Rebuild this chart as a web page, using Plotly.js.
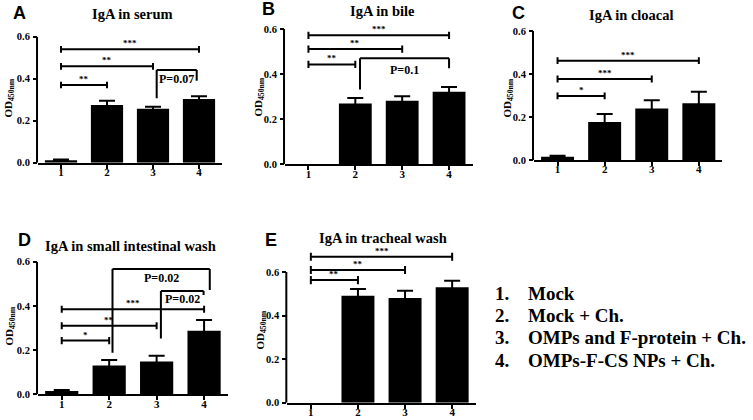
<!DOCTYPE html>
<html>
<head>
<meta charset="utf-8">
<script src="https://cdn.plot.ly/plotly-3.0.1.min.js"></script>
<style>
  body { margin: 0; background: #fff; }
  #figPlot { width: 753px; height: 420px; }
</style>
</head>
<body>
<div id="figPlot"></div>
<script>
const groups = [1, 2, 3, 4];
const groupNames = ['Mock', 'Mock + Ch.', 'OMPs and F-protein + Ch.', 'OMPs-F-CS NPs + Ch.'];
const yTicks = [0, 0.2, 0.4, 0.6];
const yTickText = ['0.0', '0.2', '0.4', '0.6'];

// OD450nm means and SEM, groups 1..4
const serumMean = [0.012, 0.275, 0.257, 0.303];
const serumErr = [0.003, 0.02, 0.01, 0.013];
const bileMean = [0, 0.27, 0.282, 0.322];
const bileErr = [0, 0.024, 0.02, 0.021];
const cloacalMean = [0.015, 0.177, 0.239, 0.264];
const cloacalErr = [0.005, 0.037, 0.039, 0.054];
const intestMean = [0.015, 0.13, 0.148, 0.287];
const intestErr = [0.004, 0.025, 0.027, 0.049];
const trachMean = [0, 0.491, 0.481, 0.53];
const trachErr = [0, 0.031, 0.033, 0.03];

// significance bars: [from, to, height, label]
const serumSig = [[1, 2, 0.37, '**'], [1, 3, 0.459, '**'], [1, 4, 0.54, '***']];
const bileSig = [[1, 2, 0.443, '**'], [1, 3, 0.511, '**'], [1, 4, 0.572, '***']];
const cloacalSig = [[1, 2, 0.298, '*'], [1, 3, 0.377, '***'], [1, 4, 0.462, '***']];
const intestSig = [[1, 2, 0.243, '*'], [1, 3, 0.31, '**'], [1, 4, 0.385, '***']];
const trachSig = [[1, 2, 0.563, '**'], [1, 3, 0.609, '**'], [1, 4, 0.67, '***']];

// p-value brackets: [from, to, height, leftEnd, rightEnd, label, labelHeight]
const serumP = [[3.08, 3.95, 0.441, 0.307, 0.39, 'P=0.07', 0.397]];
const bileP = [[2.1, 4, 0.47, 0.332, 0.426, 'P=0.1', 0.417]];
const cloacalP = [];
const intestP = [
    [2.07, 4.12, 0.567, 0.188, 0.472, 'P=0.02', 0.528],
    [3.09, 3.99, 0.467, 0.253, 0.449, 'P=0.02', 0.431],
];
const trachP = [];

const W = 753, H = 420;
const px = v => v / W;
const py = v => 1 - v / H;

const serif = "'Liberation Serif', 'Times New Roman', serif";
const sans = "'Liberation Sans', Arial, sans-serif";

// frame in pixels: left, right, bottom (y=0), top (y=0.6)
const panels = [
    { letter: 'A', title: 'IgA in serum', mean: serumMean, err: serumErr, sig: serumSig, pSig: serumP,
      frame: { l: 38, r: 222, b: 162.7, t: 36.7 }, ymax: 0.6,
      letterPos: [19, 13.5], titlePos: [132, 14], yTitlePos: [8.5, 98] },
    { letter: 'B', title: 'IgA in bile', mean: bileMean, err: bileErr, sig: bileSig, pSig: bileP,
      frame: { l: 285, r: 472.5, b: 164.3, t: 29 }, ymax: 0.6,
      letterPos: [268, 9], titlePos: [382.5, 11], yTitlePos: [258.5, 97] },
    { letter: 'C', title: 'IgA in cloacal', mean: cloacalMean, err: cloacalErr, sig: cloacalSig, pSig: cloacalP,
      frame: { l: 534, r: 722.4, b: 160, t: 31 }, ymax: 0.6,
      letterPos: [518, 12.5], titlePos: [631.7, 15], yTitlePos: [507.5, 98] },
    { letter: 'D', title: 'IgA in small intestinal wash', mean: intestMean, err: intestErr, sig: intestSig, pSig: intestP,
      frame: { l: 38, r: 227.8, b: 394.3, t: 261.7 }, ymax: 0.6,
      letterPos: [24, 240.5], titlePos: [130, 245.5], yTitlePos: [9.5, 326] },
    { letter: 'E', title: 'IgA in tracheal wash', mean: trachMean, err: trachErr, sig: trachSig, pSig: trachP,
      frame: { l: 287.3, r: 475.7, b: 402.7, t: 272 }, ymax: 0.7,
      letterPos: [270.5, 240], titlePos: [382.5, 238], yTitlePos: [260.5, 330] },
];

const traces = [];
const shapes = [];
const annotations = [];
const layout = {
    width: W,
    height: H,
    margin: { l: 0, r: 0, t: 0, b: 0 },
    paper_bgcolor: '#fff',
    plot_bgcolor: '#fff',
    showlegend: false,
};

const lineStyle = { color: '#000', width: 2 };

panels.forEach((p, i) => {
    const n = i === 0 ? '' : String(i + 1);
    const xa = 'x' + n, ya = 'y' + n;
    const f = p.frame;
    const topPx = f.b - p.ymax / 0.6 * (f.b - f.t);

    traces.push({
        type: 'bar',
        x: groups,
        y: p.mean,
        width: 0.7,
        xaxis: xa,
        yaxis: ya,
        marker: { color: '#000', line: { width: 0 } },
        // no error cap on empty groups
        error_y: {
            type: 'data',
            array: p.err.map((e, j) => (p.mean[j] > 0 ? e : NaN)),
            visible: true, color: '#000', thickness: 2, width: 8,
        },
        hoverinfo: 'skip',
    });

    layout['xaxis' + n] = {
        domain: [px(f.l), px(f.r)],
        anchor: ya,
        range: [0.5, 4.5],
        tickvals: groups,
        ticktext: groups.map(String),
        ticks: 'outside',
        ticklen: 4,
        tickwidth: 2,
        tickcolor: '#000',
        ticklabelstandoff: -6,
        showline: true,
        linecolor: '#000',
        linewidth: 2,
        showgrid: false,
        zeroline: false,
        tickfont: { family: serif, size: 11, color: '#000', weight: 'bold' },
        fixedrange: true,
    };
    layout['yaxis' + n] = {
        domain: [py(f.b), py(topPx)],
        anchor: xa,
        range: [0, p.ymax],
        tickvals: yTicks,
        ticktext: yTickText,
        ticks: 'outside',
        ticklen: 4,
        tickwidth: 2,
        tickcolor: '#000',
        ticklabelstandoff: 1,
        showline: false,
        showgrid: false,
        zeroline: false,
        tickfont: { family: serif, size: 10.5, color: '#000', weight: 'bold' },
        fixedrange: true,
    };

    // y axis line stops at 0.6 even when brackets run above it
    shapes.push({ type: 'line', xref: 'paper', yref: ya, x0: px(f.l) - 0.0013, x1: px(f.l) - 0.0013, y0: 0, y1: 0.6, line: lineStyle });

    p.sig.forEach(([a, b, h, label]) => {
        const cap = 0.016 * p.ymax / 0.6;
        shapes.push({ type: 'line', xref: xa, yref: ya, x0: a, x1: b, y0: h, y1: h, line: lineStyle });
        shapes.push({ type: 'line', xref: xa, yref: ya, x0: a, x1: a, y0: h - cap, y1: h + cap, line: lineStyle });
        shapes.push({ type: 'line', xref: xa, yref: ya, x0: b, x1: b, y0: h - cap, y1: h + cap, line: lineStyle });
        annotations.push({
            xref: xa, yref: ya, x: (a + b) / 2, y: h, yanchor: 'bottom', yshift: -1,
            text: label, showarrow: false,
            font: { family: serif, size: 9, color: '#000', weight: 'bold' },
        });
    });

    p.pSig.forEach(([a, b, h, la, rb, label, lh]) => {
        shapes.push({ type: 'line', xref: xa, yref: ya, x0: a, x1: a, y0: la, y1: h, line: lineStyle });
        shapes.push({ type: 'line', xref: xa, yref: ya, x0: a, x1: b, y0: h, y1: h, line: lineStyle });
        shapes.push({ type: 'line', xref: xa, yref: ya, x0: b, x1: b, y0: h, y1: rb, line: lineStyle });
        annotations.push({
            xref: xa, yref: ya, x: (a + b) / 2, y: lh, yanchor: 'middle',
            text: label, showarrow: false,
            font: { family: serif, size: 12, color: '#000', weight: 'bold' },
        });
    });

    annotations.push({
        xref: 'paper', yref: 'paper', x: px(p.letterPos[0]), y: py(p.letterPos[1]),
        xanchor: 'center', yanchor: 'middle', text: p.letter, showarrow: false,
        font: { family: sans, size: 18, color: '#000', weight: 'bold' },
    });
    annotations.push({
        xref: 'paper', yref: 'paper', x: px(p.titlePos[0]), y: py(p.titlePos[1]),
        xanchor: 'center', yanchor: 'middle', text: p.title, showarrow: false,
        font: { family: serif, size: 14.5, color: '#000', weight: 'bold' },
    });
    annotations.push({
        xref: 'paper', yref: 'paper', x: px(p.yTitlePos[0]), y: py(p.yTitlePos[1]),
        xanchor: 'center', yanchor: 'middle', textangle: -90,
        text: 'OD<sub>450nm</sub>', showarrow: false,
        font: { family: serif, size: 11, color: '#000', weight: 'bold' },
    });
});

// group key on the right
groupNames.forEach((name, k) => {
    const yc = 293 + k * 22.4;
    annotations.push({
        xref: 'paper', yref: 'paper', x: px(493), y: py(yc), xanchor: 'left', yanchor: 'middle',
        text: (k + 1) + '.', showarrow: false,
        font: { family: serif, size: 19, color: '#000', weight: 'bold' },
    });
    annotations.push({
        xref: 'paper', yref: 'paper', x: px(526), y: py(yc), xanchor: 'left', yanchor: 'middle',
        text: name, showarrow: false,
        font: { family: serif, size: 19, color: '#000', weight: 'bold' },
    });
});

layout.shapes = shapes;
layout.annotations = annotations;

Plotly.newPlot('figPlot', traces, layout, { displayModeBar: false, staticPlot: true });
</script>
</body>
</html>
